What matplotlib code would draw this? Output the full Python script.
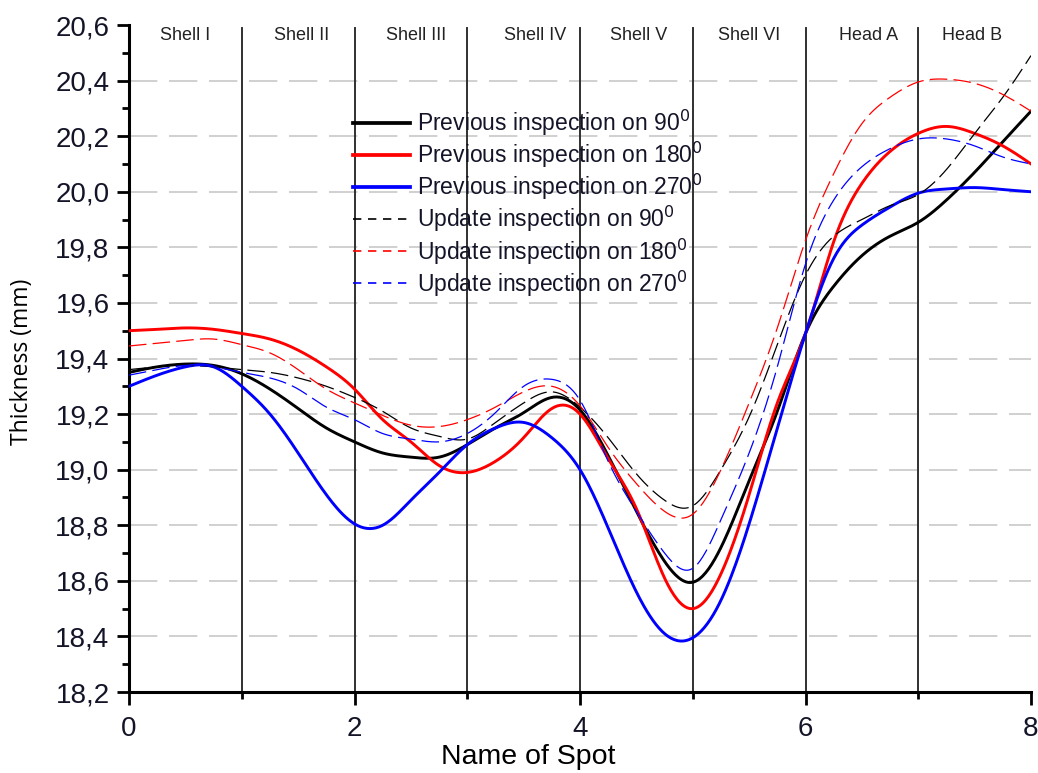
import numpy as np
import matplotlib
matplotlib.use("Agg")
import matplotlib.pyplot as plt
from matplotlib import font_manager
from matplotlib.ticker import MultipleLocator, FuncFormatter
from matplotlib.lines import Line2D

# ---------------- data ----------------
spots = [0, 0.25, 0.5, 0.75, 1, 1.25, 1.5, 1.75, 2, 2.25, 2.5, 2.75, 3, 3.25, 3.5, 3.75,
         4, 4.25, 4.5, 4.75, 5, 5.25, 5.5, 5.75, 6, 6.25, 6.5, 6.75, 7, 7.25, 7.5, 7.75, 8]

prev_90 = [19.35, 19.37, 19.38, 19.375, 19.345, 19.29, 19.22, 19.15, 19.10, 19.06, 19.045,
           19.045, 19.09, 19.15, 19.205, 19.26, 19.215, 19.05, 18.85, 18.67, 18.595, 18.72,
           18.96, 19.21, 19.49, 19.66, 19.77, 19.84, 19.89, 19.97, 20.07, 20.18, 20.29]
prev_180 = [19.50, 19.505, 19.51, 19.505, 19.49, 19.47, 19.43, 19.37, 19.29, 19.18, 19.10,
            19.015, 18.99, 19.03, 19.115, 19.22, 19.20, 19.04, 18.86, 18.61, 18.50, 18.625,
            18.91, 19.24, 19.49, 19.82, 20.03, 20.145, 20.21, 20.235, 20.21, 20.165, 20.10]
prev_270 = [19.30, 19.34, 19.37, 19.37, 19.30, 19.20, 19.06, 18.91, 18.805, 18.80, 18.89,
            18.99, 19.09, 19.15, 19.17, 19.115, 19.00, 18.79, 18.56, 18.41, 18.395, 18.53,
            18.805, 19.15, 19.49, 19.76, 19.88, 19.945, 19.995, 20.01, 20.015, 20.008, 20.00]
upd_90 = [19.36, 19.37, 19.375, 19.37, 19.36, 19.35, 19.33, 19.30, 19.26, 19.21, 19.15,
          19.12, 19.11, 19.17, 19.24, 19.28, 19.225, 19.115, 18.985, 18.89, 18.87, 19.00,
          19.19, 19.45, 19.70, 19.84, 19.90, 19.95, 19.99, 20.08, 20.21, 20.34, 20.49]
upd_180 = [19.445, 19.455, 19.465, 19.47, 19.45, 19.42, 19.36, 19.29, 19.24, 19.195, 19.16,
           19.155, 19.18, 19.225, 19.28, 19.30, 19.23, 19.08, 18.95, 18.85, 18.84, 19.00,
           19.24, 19.51, 19.825, 20.065, 20.245, 20.34, 20.395, 20.405, 20.39, 20.35, 20.29]
upd_270 = [19.34, 19.36, 19.375, 19.37, 19.35, 19.33, 19.29, 19.225, 19.18, 19.13, 19.11,
           19.10, 19.13, 19.205, 19.30, 19.325, 19.25, 19.03, 18.85, 18.70, 18.645, 18.82,
           19.06, 19.37, 19.74, 19.97, 20.09, 20.155, 20.19, 20.19, 20.165, 20.125, 20.10]

series_labels = ["Previous inspection on 90", "Previous inspection on 180",
                 "Previous inspection on 270", "Update inspection on 90",
                 "Update inspection on 180", "Update inspection on 270"]
section_names = ["Shell I", "Shell II", "Shell III", "Shell IV", "Shell V", "Shell VI",
                 "Head A", "Head B"]
section_centers = [0.5, 1.53, 2.55, 3.6, 4.52, 5.5, 6.56, 7.48]
boundaries = [1, 2, 3, 4, 5, 6, 7]
grid_levels = [18.4, 18.6, 18.8, 19.0, 19.2, 19.4, 19.6, 19.8, 20.0, 20.2, 20.4]


def natural_spline(x, y, n=600):
    x = np.asarray(x, float)
    y = np.asarray(y, float)
    m = len(x)
    h = np.diff(x)
    A = np.zeros((m, m))
    b = np.zeros(m)
    A[0, 0] = 1
    A[-1, -1] = 1
    for i in range(1, m - 1):
        A[i, i - 1] = h[i - 1]
        A[i, i] = 2 * (h[i - 1] + h[i])
        A[i, i + 1] = h[i]
        b[i] = 6 * ((y[i + 1] - y[i]) / h[i] - (y[i] - y[i - 1]) / h[i - 1])
    M = np.linalg.solve(A, b)
    xs = np.linspace(x[0], x[-1], n)
    idx = np.clip(np.searchsorted(x, xs) - 1, 0, m - 2)
    x0, x1 = x[idx], x[idx + 1]
    hh = x1 - x0
    t0 = x1 - xs
    t1 = xs - x0
    ys = (M[idx] * t0 ** 3 / (6 * hh) + M[idx + 1] * t1 ** 3 / (6 * hh)
          + (y[idx] / hh - M[idx] * hh / 6) * t0 + (y[idx + 1] / hh - M[idx + 1] * hh / 6) * t1)
    return xs, ys


def pick(names):
    avail = {f.name for f in font_manager.fontManager.ttflist}
    return [n for n in names if n in avail] + ["DejaVu Sans"]


arial = pick(["Liberation Sans", "Arial"])
narrow = pick(["Liberation Sans Narrow", "Liberation Sans"])

fig = plt.figure(figsize=(10.38, 7.73), dpi=100)
ax = fig.add_axes([129 / 1038, 1 - 692 / 773, (1031 - 129) / 1038, (692 - 25) / 773])

# grid
for g in grid_levels:
    ax.axhline(g, color="#c8c8c8", lw=1.2, ls=(0, (17, 7)), zorder=0)

# section boundaries
for bnd in boundaries:
    ax.plot([bnd, bnd], [18.2, 20.59], color="#303030", lw=1.4, zorder=1)

for name, cx in zip(section_names, section_centers):
    ax.text(cx, 20.562, name, ha="center", va="center", fontsize=13,
            family=narrow, color="#222222")

styles = [
    (prev_90, "black", "-", 2.1),
    (prev_180, "#ff0000", "-", 2.1),
    (prev_270, "#0000ff", "-", 2.1),
    (upd_90, "black", (0, (14, 5)), 0.9),
    (upd_180, "#ff0000", (0, (14, 5)), 0.9),
    (upd_270, "#0000ff", (0, (14, 5)), 0.9),
]
handles = []
for (vals, c, ls, lw), lab in zip(styles, series_labels):
    xs, ys = natural_spline(spots, vals)
    ax.plot(xs, ys, color=c, ls=ls, lw=lw, zorder=3)
    handles.append(Line2D([], [], color=c, ls=ls if ls == "-" else (0, (5, 4)),
                          lw=lw + (0.3 if ls != "-" else 0.6),
                          label=lab + r"$^{0}$"))

ax.set_xlim(0, 8)
ax.set_ylim(18.2, 20.6)
ax.xaxis.set_major_locator(MultipleLocator(2))
ax.xaxis.set_minor_locator(MultipleLocator(1))
ax.yaxis.set_major_locator(MultipleLocator(0.2))
ax.yaxis.set_minor_locator(MultipleLocator(0.1))
ax.yaxis.set_major_formatter(FuncFormatter(lambda v, p: f"{v:.1f}".replace(".", ",")))
ax.xaxis.set_major_formatter(FuncFormatter(lambda v, p: f"{v:.0f}"))

for s in ["top", "right"]:
    ax.spines[s].set_visible(False)
for s in ["left", "bottom"]:
    ax.spines[s].set_linewidth(2.2)
ax.tick_params(which="major", direction="out", length=9, width=2.0)
ax.tick_params(which="minor", direction="out", length=5, width=2.0)
ax.tick_params(axis="y", labelsize=20, pad=5, labelcolor="#141428")
ax.tick_params(axis="x", labelsize=20, pad=8, labelcolor="#141428")
for t in ax.get_yticklabels():
    t.set_family(arial)
for t in ax.get_xticklabels():
    t.set_family(narrow)

fig.text(528 / 1038, 1 - 757 / 773, "Name of Spot", ha="center", va="center",
         fontsize=20.5, family=narrow)
fig.text(22 / 1038, 1 - 362 / 773, "Thickness (mm)", ha="center", va="center",
         rotation=90, fontsize=16.5, family=pick(["Open Sans", "Noto Sans"]))

leg = ax.legend(handles=handles, loc="upper left",
                bbox_to_anchor=((344 - 129) / 902, 1 - (99 - 25) / 667),
                frameon=False, handlelength=2.5, handletextpad=0.3,
                labelspacing=0.08, prop={"family": arial, "size": 16.5},
                borderaxespad=0)
for t in leg.get_texts():
    t.set_color("#141428")

fig.savefig("out.png", dpi=100)
